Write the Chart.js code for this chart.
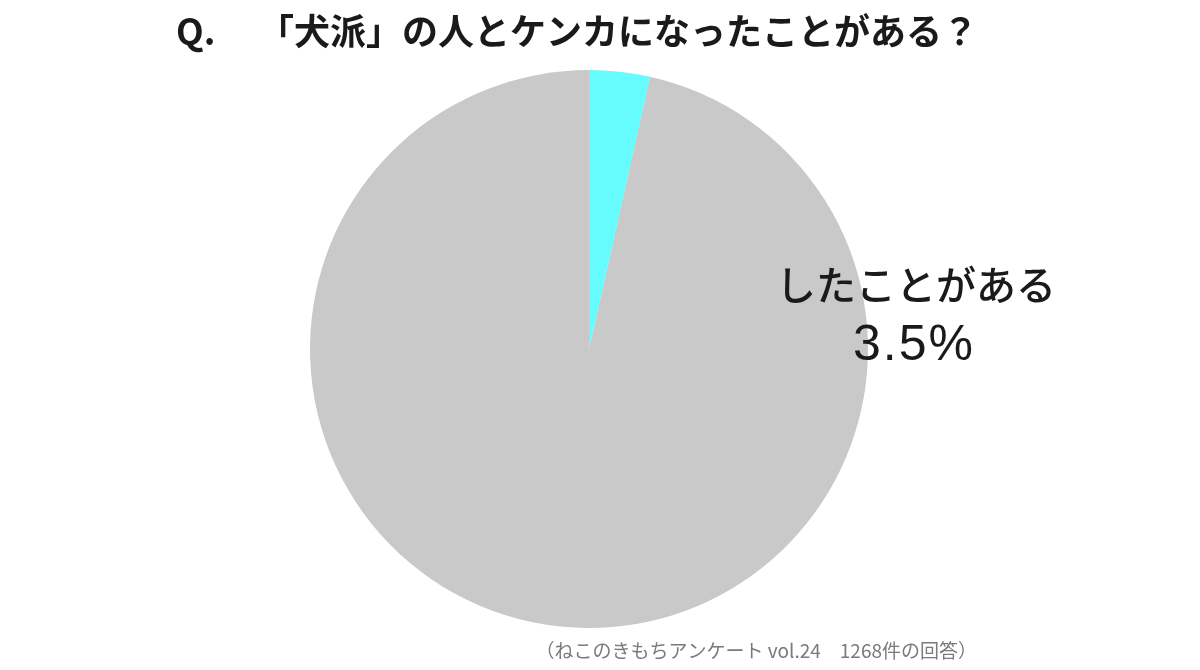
<!DOCTYPE html>
<html>
<head>
<meta charset="utf-8">
<script src="https://cdn.jsdelivr.net/npm/chart.js@4"></script>
<style>
html,body{margin:0;padding:0;background:#fff;}
#wrap{position:relative;width:1200px;height:670px;}
canvas{display:block;}
</style>
</head>
<body>
<div id="wrap"><canvas id="c" width="1200" height="670"></canvas></div>
<script>
const titleQ = 'Q.';
const titleText = '「犬派」の人とケンカになったことがある？';
const categories = ['したことがある', 'ない'];
const values = [3.5, 96.5];
const colors = ['#66fbfd', '#c9c9c9'];
const valueLabel = '3.5%';
const sourceNote = '（ねこのきもちアンケート vol.24　1268件の回答）';

const textPlugin = {
  id: 'texts',
  afterDraw(chart) {
    const ctx = chart.ctx;
    ctx.save();
    ctx.fillStyle = '#1a1a1a';
    ctx.textBaseline = 'middle';
    ctx.textAlign = 'left';
    ctx.font = '600 36px "Noto Sans CJK JP", "Noto Sans", sans-serif';
    ctx.fillText(titleQ, 176, 31);
    ctx.fillText(titleText, 258, 31);

    ctx.textAlign = 'center';
    ctx.font = '500 40px "Noto Sans CJK JP", sans-serif';
    ctx.fillText(categories[0], 916, 285);
    ctx.font = '400 50px "Liberation Sans", Arial, sans-serif';
    try { ctx.letterSpacing = '2px'; } catch (e) {}
    ctx.fillText(valueLabel, 914, 346);
    try { ctx.letterSpacing = '0px'; } catch (e) {}

    ctx.textAlign = 'right';
    ctx.fillStyle = '#7a7a7a';
    ctx.font = '400 19px "Noto Sans CJK JP", sans-serif';
    ctx.fillText(sourceNote, 977, 651);
    ctx.restore();
  }
};

new Chart(document.getElementById('c'), {
  type: 'pie',
  data: {
    labels: categories,
    datasets: [{
      data: values,
      backgroundColor: colors,
      borderWidth: 0
    }]
  },
  options: {
    responsive: false,
    animation: false,
    devicePixelRatio: 1,
    layout: { padding: { top: 70, bottom: 42, left: 308, right: 330 } },
    plugins: {
      legend: { display: false },
      tooltip: { enabled: false },
      title: { display: false }
    }
  },
  plugins: [textPlugin]
});
</script>
</body>
</html>
